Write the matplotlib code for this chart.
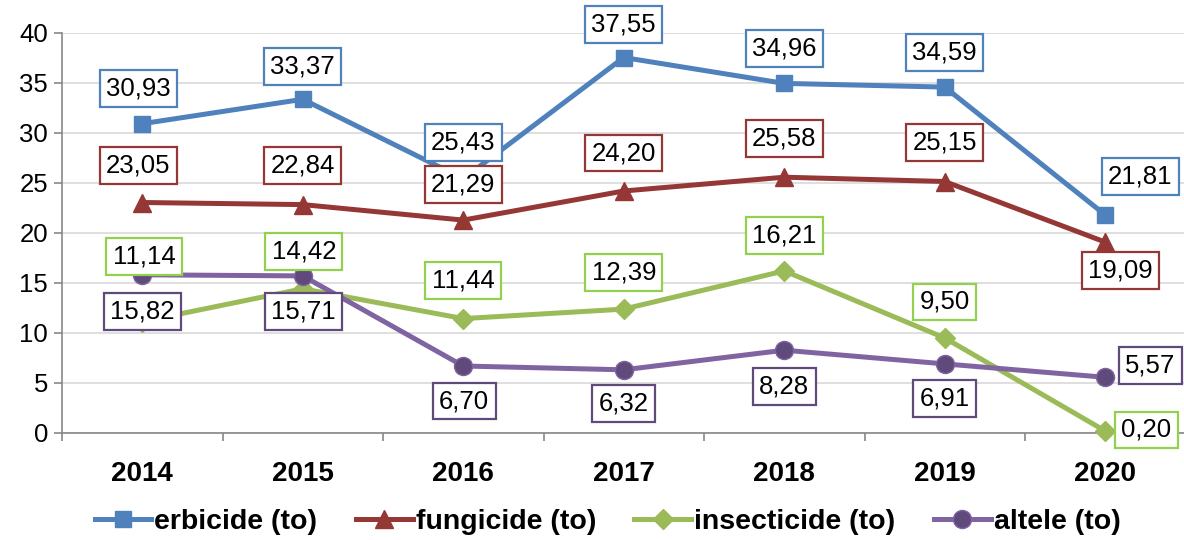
import numpy as np
import matplotlib
matplotlib.use("Agg")
import matplotlib.pyplot as plt

plt.rcParams['font.family'] = ['Liberation Sans', 'DejaVu Sans']

years = ['2014', '2015', '2016', '2017', '2018', '2019', '2020']
erbicide = [30.93, 33.37, 25.43, 37.55, 34.96, 34.59, 21.81]
fungicide = [23.05, 22.84, 21.29, 24.20, 25.58, 25.15, 19.09]
insecticide = [11.14, 14.42, 11.44, 12.39, 16.21, 9.50, 0.20]
altele = [15.82, 15.71, 6.70, 6.32, 8.28, 6.91, 5.57]
names = ['erbicide (to)', 'fungicide (to)', 'insecticide (to)', 'altele (to)']

# label offsets in pixels (dx, dy), like the Excel label placement
off_erb = [(-4, 35), (0, 33), (0, 36), (0, 33), (0, 35), (0, 35), (35, 38)]
off_fun = [(-4, 37), (0, 39), (0, 36), (0, 38), (0, 39), (0, 39), (15, -28)]
off_ins = [(2, 65), (1, 37), (0, 38), (0, 37), (0, 35), (0, 36), (41, 1)]
off_alt = [(0, -37), (1, -36), (1, -35), (0, -34), (0, -36), (0, -35), (45, 12)]

styles = [
    dict(color='#4F81BD', marker='s', ms=12, mfc='#4F81BD', mec='#4F81BD', box='#4F81BD'),
    dict(color='#953735', marker='^', ms=13, mfc='#953735', mec='#953735', box='#953735'),
    dict(color='#9BBB59', marker='D', ms=10, mfc='#9BBB59', mec='#9BBB59', box='#92D050'),
    dict(color='#8064A2', marker='o', ms=13, mfc='#604A7B', mec='#8064A2', box='#604A7B'),
]

fig = plt.figure(figsize=(11.84, 5.4), dpi=100)
ax = fig.add_axes([62 / 1184, 1 - 433 / 540, 1123.5 / 1184, 400 / 540])

x = np.arange(len(years))
series = [erbicide, fungicide, insecticide, altele]
offsets = [off_erb, off_fun, off_ins, off_alt]

for vals, st, nm in zip(series, styles, names):
    ax.plot(x, vals, color=st['color'], lw=3.6, marker=st['marker'], ms=st['ms'],
            mfc=st['mfc'], mec=st['mec'], label=nm, zorder=3, clip_on=False)

for vals, st, offs in zip(series, styles, offsets):
    for xi, v, (dx, dy) in zip(x, vals, offs):
        ax.annotate(('%.2f' % v).replace('.', ','), (xi, v), xytext=(dx, dy),
                    textcoords='offset pixels', ha='center', va='center',
                    fontsize=18.5, color='black', zorder=5,
                    bbox=dict(boxstyle='square,pad=0.25', fc='white',
                              ec=st['box'], lw=1.6))

ax.set_xlim(-0.5, 6.5)
ax.set_ylim(0, 40)
ax.set_yticks(np.arange(0, 41, 5))
ax.set_xticks(x)
ax.set_xticklabels(years, fontsize=20, fontweight='bold')
ax.set_xticks(np.arange(-0.5, 7, 1), minor=True)
ax.tick_params(axis='x', which='major', length=0, pad=20)
ax.tick_params(axis='x', which='minor', length=6, color='#878787', width=1.2)
ax.tick_params(axis='y', labelsize=18.5, length=6, color='#878787', width=1.2, pad=4)
ax.grid(axis='y', color='#D9D9D9', lw=1.2)
ax.set_axisbelow(True)
for s in ['top', 'right']:
    ax.spines[s].set_visible(False)
for s in ['left', 'bottom']:
    ax.spines[s].set_color('#878787')
    ax.spines[s].set_linewidth(1.2)

leg = fig.legend(loc='center', bbox_to_anchor=(0.513, 1 - 522 / 540), ncol=4,
                 frameon=False, prop=dict(size=20.5, weight='bold'),
                 handlelength=2.0, handletextpad=0.1, columnspacing=1.35)

fig.savefig('out.png', dpi=100)
